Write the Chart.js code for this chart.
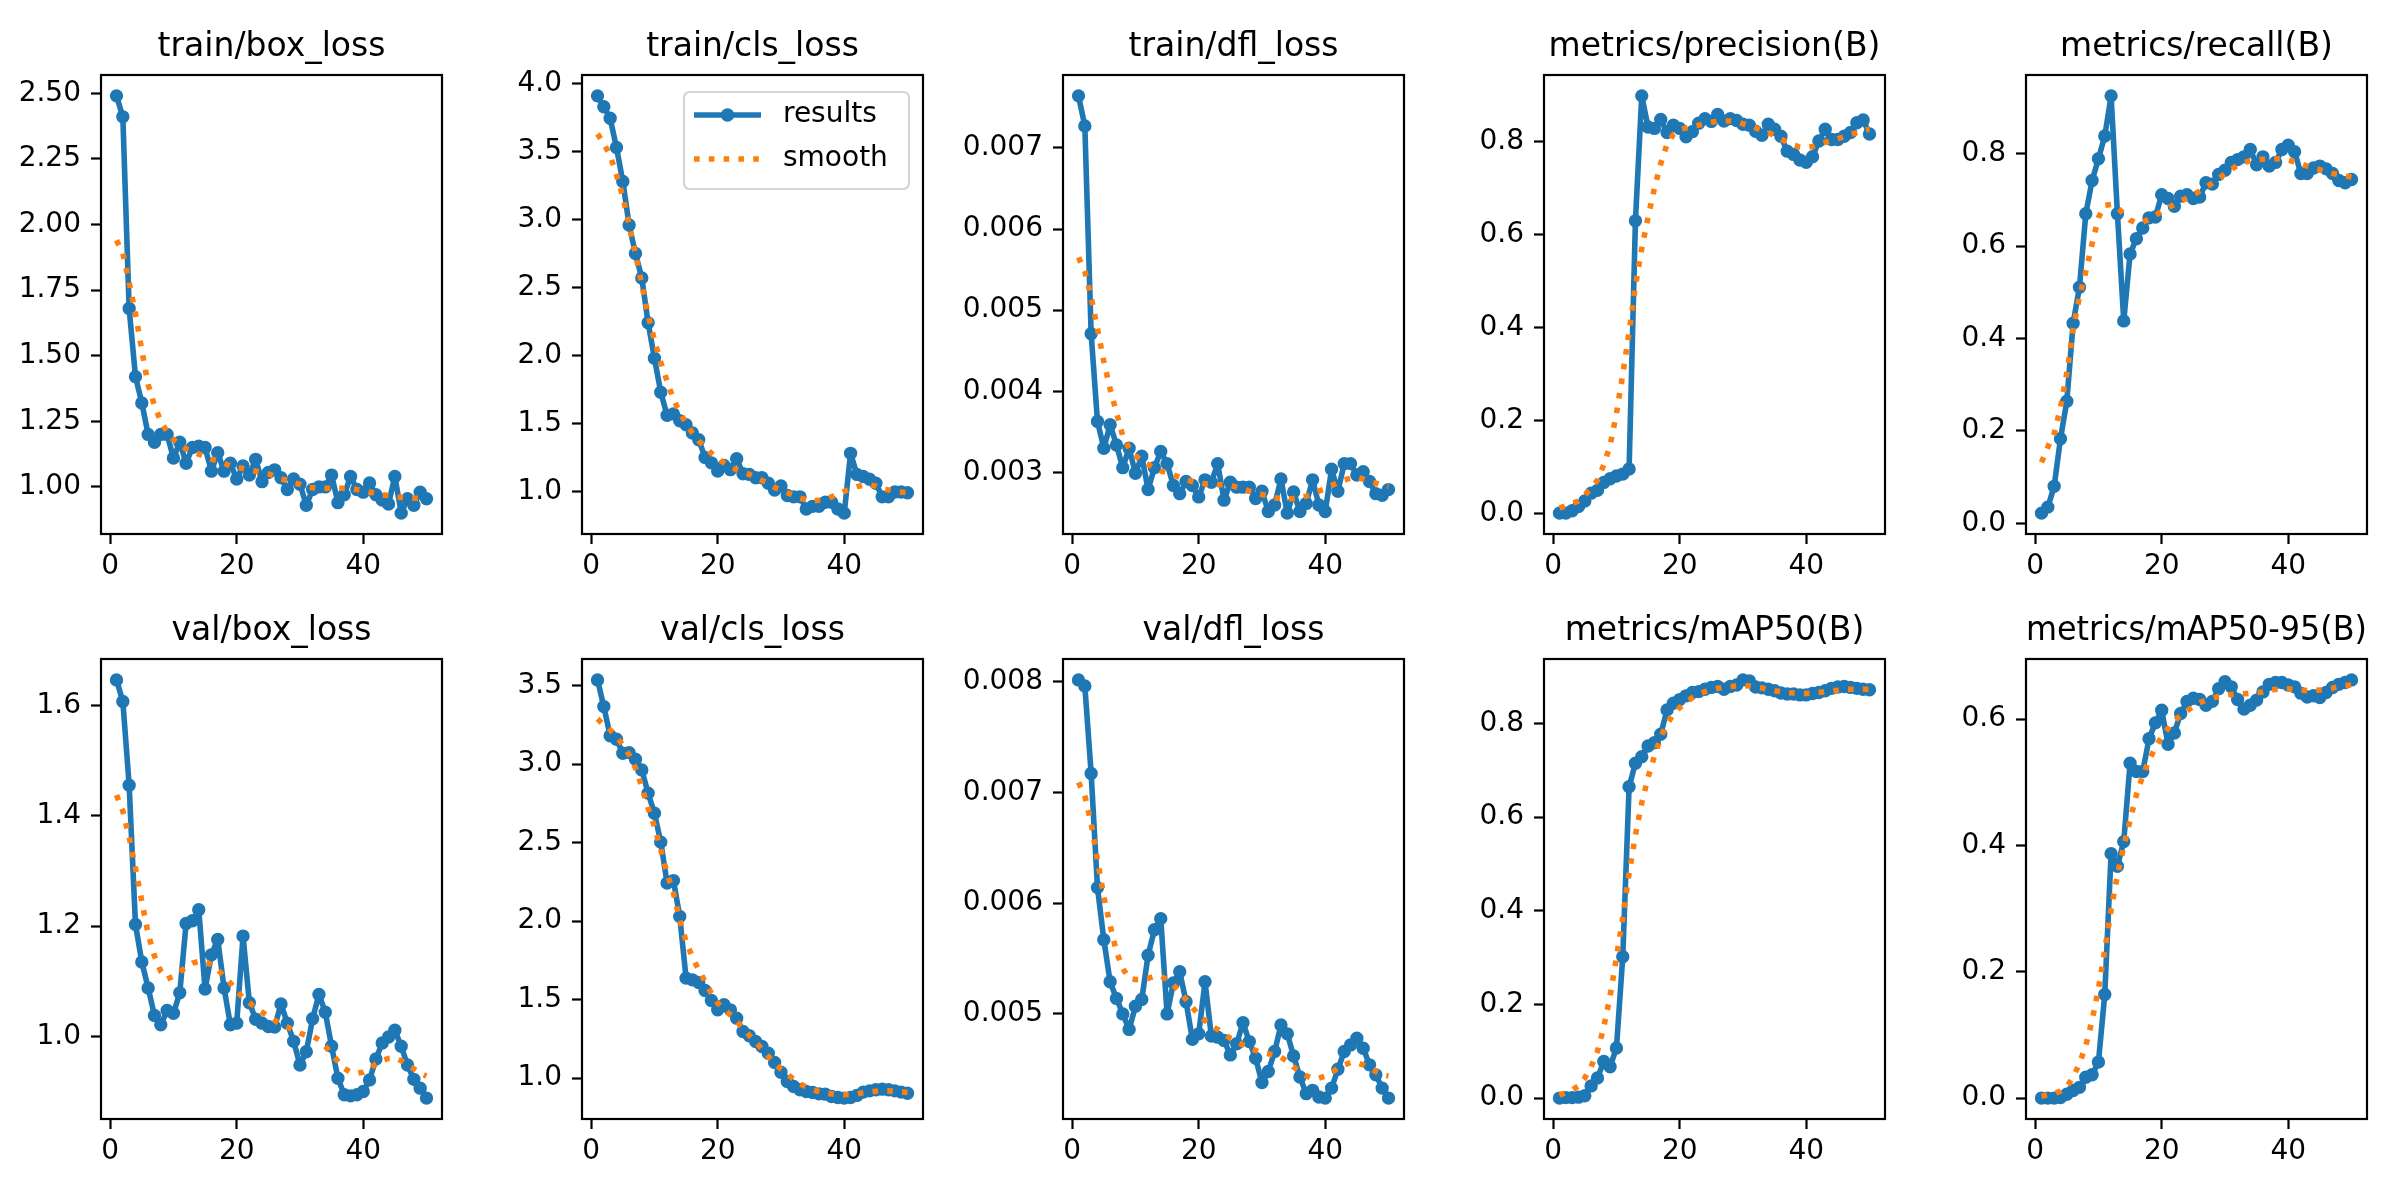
<!DOCTYPE html>
<html>
<head>
<meta charset="utf-8">
<title>results</title>
<script src="https://cdn.jsdelivr.net/npm/chart.js@4.4.1/dist/chart.umd.min.js"></script>
<style>
    html, body { margin: 0; padding: 0; background: #ffffff; }
    #fig { position: relative; width: 2400px; height: 1200px; overflow: hidden; background: #ffffff; }
    #fig canvas { position: absolute; }
</style>
</head>
<body>
<div id="fig"></div>
<script>
// Эпохи обучения
const epochs = [1, 2, 3, 4, 5, 6, 7, 8, 9, 10, 11, 12, 13, 14, 15, 16, 17, 18, 19, 20,
    21, 22, 23, 24, 25, 26, 27, 28, 29, 30, 31, 32, 33, 34, 35, 36, 37, 38, 39, 40,
    41, 42, 43, 44, 45, 46, 47, 48, 49, 50];
const xTicks = [0, 20, 40];

// train/box_loss
const trainBoxLoss = [2.49, 2.41, 1.68, 1.42, 1.32, 1.20, 1.17, 1.20, 1.20, 1.11, 1.17, 1.09, 1.15, 1.155, 1.15, 1.06, 1.13, 1.06, 1.09, 1.03,
    1.08, 1.045, 1.105, 1.02, 1.055, 1.065, 1.035, 0.99, 1.03, 1.01, 0.93, 0.99, 1.0, 1.0, 1.045, 0.94, 0.97, 1.04, 0.99, 0.98,
    1.015, 0.97, 0.95, 0.935, 1.04, 0.90, 0.955, 0.93, 0.98, 0.955];
const trainBoxSmooth = [1.94, 1.89, 1.78, 1.66, 1.52, 1.39, 1.31, 1.25, 1.21, 1.18, 1.16, 1.145, 1.135, 1.125, 1.115, 1.105, 1.10, 1.09, 1.08, 1.075,
    1.07, 1.065, 1.06, 1.055, 1.05, 1.04, 1.03, 1.025, 1.015, 1.01, 1.0, 0.997, 0.995, 0.995, 0.995, 0.995, 0.995, 0.995, 0.99, 0.987,
    0.98, 0.977, 0.97, 0.967, 0.963, 0.96, 0.957, 0.957, 0.957, 0.957];
const trainBoxTicks = [1.00, 1.25, 1.50, 1.75, 2.00, 2.25, 2.50];

// train/cls_loss
const trainClsLoss = [3.91, 3.83, 3.745, 3.53, 3.28, 2.96, 2.75, 2.57, 2.24, 1.98, 1.73, 1.56, 1.57, 1.52, 1.49, 1.43, 1.38, 1.25, 1.21, 1.15,
    1.19, 1.16, 1.24, 1.13, 1.125, 1.10, 1.10, 1.06, 1.01, 1.04, 0.97, 0.96, 0.96, 0.87, 0.89, 0.89, 0.92, 0.92, 0.87, 0.84,
    1.28, 1.125, 1.11, 1.09, 1.06, 0.96, 0.96, 0.995, 0.995, 0.99];
const trainClsSmooth = [3.63, 3.56, 3.47, 3.33, 3.17, 2.96, 2.75, 2.52, 2.30, 2.11, 1.95, 1.81, 1.68, 1.58, 1.50, 1.43, 1.37, 1.33, 1.28, 1.24,
    1.21, 1.18, 1.16, 1.14, 1.125, 1.105, 1.08, 1.06, 1.03, 1.01, 0.99, 0.97, 0.95, 0.94, 0.93, 0.935, 0.94, 0.96, 0.98, 1.0,
    1.02, 1.035, 1.045, 1.047, 1.04, 1.02, 1.01, 1.0, 0.995, 0.99];
const trainClsTicks = [1.0, 1.5, 2.0, 2.5, 3.0, 3.5, 4.0];

// train/dfl_loss
const trainDflLoss = [0.00764, 0.00727, 0.00471, 0.00363, 0.00330, 0.00359, 0.00334, 0.00306, 0.00330, 0.00299, 0.00320, 0.00279, 0.00306, 0.00326, 0.00311, 0.00284, 0.00274, 0.00289, 0.00284, 0.00270,
    0.00291, 0.00288, 0.00311, 0.00266, 0.00288, 0.00282, 0.00282, 0.00282, 0.00268, 0.00277, 0.00252, 0.00260, 0.00292, 0.00250, 0.00276, 0.00252, 0.00262, 0.00291, 0.00260, 0.00252,
    0.00304, 0.00277, 0.00311, 0.00311, 0.00297, 0.00301, 0.00289, 0.00274, 0.00272, 0.00279];
const trainDflSmooth = [0.00565, 0.00548, 0.00516, 0.00477, 0.00437, 0.00403, 0.00374, 0.00345, 0.00330, 0.00321, 0.00314, 0.00310, 0.00305, 0.00302, 0.00300, 0.00297, 0.00294, 0.00291, 0.00289, 0.00287,
    0.00286, 0.00286, 0.00285, 0.00285, 0.00284, 0.00282, 0.00280, 0.00277, 0.00275, 0.00273, 0.00271, 0.00269, 0.00268, 0.00267, 0.00268, 0.00269, 0.00271, 0.00274, 0.00277, 0.00280,
    0.00284, 0.00288, 0.00291, 0.00293, 0.00294, 0.00292, 0.00289, 0.00287, 0.00284, 0.00283];
const trainDflTicks = [0.003, 0.004, 0.005, 0.006, 0.007];

// metrics/precision(B)
const precision = [0.001, 0.001, 0.006, 0.015, 0.027, 0.044, 0.050, 0.067, 0.075, 0.081, 0.085, 0.096, 0.630, 0.899, 0.832, 0.829, 0.848, 0.820, 0.836, 0.829,
    0.811, 0.822, 0.840, 0.850, 0.844, 0.859, 0.845, 0.850, 0.846, 0.838, 0.836, 0.823, 0.814, 0.838, 0.827, 0.812, 0.780, 0.773, 0.761, 0.756,
    0.768, 0.802, 0.827, 0.805, 0.805, 0.812, 0.820, 0.841, 0.847, 0.817];
const precisionSmooth = [0.012, 0.017, 0.022, 0.027, 0.040, 0.054, 0.072, 0.105, 0.147, 0.215, 0.300, 0.390, 0.490, 0.570, 0.638, 0.700, 0.753, 0.795, 0.816, 0.826,
    0.830, 0.833, 0.836, 0.839, 0.842, 0.844, 0.845, 0.845, 0.843, 0.839, 0.835, 0.830, 0.825, 0.820, 0.813, 0.806, 0.799, 0.793, 0.789, 0.788,
    0.790, 0.794, 0.799, 0.802, 0.807, 0.811, 0.816, 0.820, 0.825, 0.827];
const precisionTicks = [0.0, 0.2, 0.4, 0.6, 0.8];

// metrics/recall(B)
const recall = [0.022, 0.035, 0.080, 0.183, 0.264, 0.433, 0.511, 0.670, 0.742, 0.789, 0.838, 0.925, 0.670, 0.438, 0.583, 0.616, 0.639, 0.661, 0.663, 0.711,
    0.703, 0.686, 0.708, 0.711, 0.703, 0.706, 0.737, 0.734, 0.755, 0.764, 0.781, 0.787, 0.793, 0.809, 0.776, 0.793, 0.773, 0.781, 0.809, 0.818,
    0.804, 0.757, 0.757, 0.769, 0.773, 0.767, 0.757, 0.742, 0.737, 0.744];
const recallSmooth = [0.132, 0.165, 0.194, 0.250, 0.325, 0.420, 0.490, 0.545, 0.605, 0.661, 0.688, 0.690, 0.683, 0.670, 0.656, 0.650, 0.652, 0.658, 0.666, 0.676,
    0.683, 0.690, 0.697, 0.704, 0.711, 0.719, 0.727, 0.736, 0.746, 0.756, 0.766, 0.775, 0.780, 0.785, 0.787, 0.788, 0.789, 0.789, 0.788, 0.786,
    0.782, 0.778, 0.773, 0.769, 0.765, 0.761, 0.757, 0.755, 0.752, 0.749];
const recallTicks = [0.0, 0.2, 0.4, 0.6, 0.8];

// val/box_loss
const valBoxLoss = [1.647, 1.608, 1.456, 1.203, 1.135, 1.088, 1.038, 1.021, 1.047, 1.042, 1.079, 1.205, 1.210, 1.230, 1.086, 1.148, 1.176, 1.088, 1.021, 1.024,
    1.182, 1.061, 1.031, 1.024, 1.018, 1.017, 1.059, 1.024, 0.991, 0.948, 0.972, 1.032, 1.076, 1.044, 0.982, 0.924, 0.894, 0.892, 0.894, 0.900,
    0.921, 0.959, 0.988, 0.999, 1.011, 0.982, 0.948, 0.922, 0.906, 0.888];
const valBoxSmooth = [1.438, 1.409, 1.362, 1.305, 1.245, 1.186, 1.146, 1.118, 1.104, 1.109, 1.117, 1.126, 1.133, 1.136, 1.136, 1.130, 1.121, 1.109, 1.097, 1.082,
    1.070, 1.061, 1.052, 1.044, 1.036, 1.029, 1.022, 1.017, 1.011, 1.006, 1.002, 1.0, 0.994, 0.982, 0.968, 0.955, 0.942, 0.935, 0.933, 0.935,
    0.941, 0.950, 0.956, 0.960, 0.961, 0.956, 0.948, 0.941, 0.933, 0.928];
const valBoxTicks = [1.0, 1.2, 1.4, 1.6];

// val/cls_loss
const valClsLoss = [3.536, 3.366, 3.180, 3.158, 3.069, 3.073, 3.031, 2.963, 2.815, 2.687, 2.503, 2.242, 2.258, 2.029, 1.637, 1.626, 1.609, 1.558, 1.494, 1.435,
    1.467, 1.435, 1.382, 1.297, 1.270, 1.233, 1.202, 1.159, 1.100, 1.038, 0.979, 0.947, 0.926, 0.915, 0.909, 0.900, 0.898, 0.883, 0.877, 0.873,
    0.877, 0.890, 0.911, 0.919, 0.926, 0.930, 0.926, 0.919, 0.911, 0.904];
const valClsSmooth = [3.288, 3.250, 3.218, 3.175, 3.122, 3.059, 2.974, 2.857, 2.719, 2.602, 2.454, 2.305, 2.178, 2.008, 1.870, 1.770, 1.690, 1.615, 1.540, 1.478,
    1.439, 1.403, 1.361, 1.318, 1.272, 1.229, 1.185, 1.138, 1.096, 1.057, 1.025, 0.994, 0.964, 0.943, 0.926, 0.915, 0.904, 0.900, 0.896, 0.894,
    0.896, 0.900, 0.907, 0.913, 0.917, 0.919, 0.919, 0.917, 0.913, 0.909];
const valClsTicks = [1.0, 1.5, 2.0, 2.5, 3.0, 3.5];

// val/dfl_loss
const valDflLoss = [0.008015, 0.00796, 0.00717, 0.00614, 0.00567, 0.00529, 0.00514, 0.00500, 0.00486, 0.00507, 0.00513, 0.00553, 0.00576, 0.00586, 0.00500, 0.00528, 0.00538, 0.00511, 0.00477, 0.00482,
    0.00529, 0.00480, 0.00479, 0.00476, 0.00463, 0.00473, 0.00492, 0.00475, 0.00460, 0.00438, 0.00448, 0.00466, 0.00490, 0.00482, 0.00462, 0.00443, 0.00428, 0.00431, 0.00425, 0.00424,
    0.00433, 0.00450, 0.00466, 0.00472, 0.00478, 0.00469, 0.00454, 0.00445, 0.00433, 0.00424];
const valDflSmooth = [0.00709, 0.00697, 0.00672, 0.00639, 0.00606, 0.00580, 0.00556, 0.00541, 0.00532, 0.00531, 0.00531, 0.00532, 0.00534, 0.00534, 0.00531, 0.00526, 0.00520, 0.00513, 0.00506, 0.00499,
    0.00494, 0.00489, 0.00486, 0.00482, 0.00478, 0.00475, 0.00472, 0.00469, 0.00467, 0.00465, 0.00464, 0.00463, 0.00461, 0.00457, 0.00452, 0.00448, 0.00444, 0.00442, 0.00442, 0.00444,
    0.00447, 0.00451, 0.00454, 0.00456, 0.00456, 0.00454, 0.00451, 0.00448, 0.00445, 0.00444];
const valDflTicks = [0.005, 0.006, 0.007, 0.008];

// metrics/mAP50(B)
const mAP50 = [0.0, 0.001, 0.001, 0.002, 0.005, 0.026, 0.043, 0.078, 0.067, 0.107, 0.302, 0.665, 0.715, 0.729, 0.752, 0.759, 0.777, 0.829, 0.843, 0.851,
    0.859, 0.866, 0.868, 0.873, 0.877, 0.879, 0.873, 0.879, 0.882, 0.893, 0.891, 0.878, 0.876, 0.873, 0.870, 0.865, 0.863, 0.863, 0.861, 0.861,
    0.864, 0.866, 0.870, 0.875, 0.878, 0.879, 0.877, 0.875, 0.873, 0.872];
const mAP50Smooth = [0.006, 0.012, 0.017, 0.026, 0.043, 0.067, 0.100, 0.152, 0.218, 0.300, 0.385, 0.480, 0.562, 0.630, 0.685, 0.730, 0.770, 0.799, 0.820, 0.834,
    0.846, 0.855, 0.863, 0.868, 0.872, 0.875, 0.877, 0.879, 0.880, 0.881, 0.880, 0.878, 0.876, 0.873, 0.870, 0.868, 0.866, 0.865, 0.864, 0.864,
    0.865, 0.866, 0.868, 0.870, 0.871, 0.873, 0.873, 0.873, 0.873, 0.873];
const mAP50Ticks = [0.0, 0.2, 0.4, 0.6, 0.8];

// metrics/mAP50-95(B)
const mAP5095 = [0.0, 0.0, 0.0, 0.001, 0.006, 0.012, 0.017, 0.033, 0.037, 0.057, 0.164, 0.387, 0.367, 0.406, 0.530, 0.517, 0.517, 0.569, 0.594, 0.614,
    0.560, 0.578, 0.609, 0.628, 0.633, 0.631, 0.622, 0.628, 0.648, 0.659, 0.651, 0.631, 0.616, 0.622, 0.630, 0.643, 0.655, 0.658, 0.658, 0.654,
    0.651, 0.641, 0.635, 0.637, 0.634, 0.642, 0.650, 0.655, 0.658, 0.662];
const mAP5095Smooth = [0.003, 0.005, 0.007, 0.011, 0.018, 0.033, 0.055, 0.083, 0.123, 0.173, 0.234, 0.298, 0.353, 0.398, 0.440, 0.480, 0.510, 0.535, 0.555, 0.572,
    0.585, 0.597, 0.606, 0.613, 0.620, 0.626, 0.630, 0.633, 0.636, 0.638, 0.639, 0.640, 0.640, 0.641, 0.642, 0.643, 0.646, 0.647, 0.648, 0.648,
    0.647, 0.646, 0.645, 0.645, 0.646, 0.647, 0.649, 0.651, 0.653, 0.654];
const mAP5095Ticks = [0.0, 0.2, 0.4, 0.6];

// Порядок панелей: верхний ряд, затем нижний
const panels = [
    { title: 'train/box_loss', values: trainBoxLoss, smooth: trainBoxSmooth, ticks: trainBoxTicks, digits: 2 },
    { title: 'train/cls_loss', values: trainClsLoss, smooth: trainClsSmooth, ticks: trainClsTicks, digits: 1, legend: true },
    { title: 'train/dfl_loss', values: trainDflLoss, smooth: trainDflSmooth, ticks: trainDflTicks, digits: 3 },
    { title: 'metrics/precision(B)', values: precision, smooth: precisionSmooth, ticks: precisionTicks, digits: 1 },
    { title: 'metrics/recall(B)', values: recall, smooth: recallSmooth, ticks: recallTicks, digits: 1 },
    { title: 'val/box_loss', values: valBoxLoss, smooth: valBoxSmooth, ticks: valBoxTicks, digits: 1 },
    { title: 'val/cls_loss', values: valClsLoss, smooth: valClsSmooth, ticks: valClsTicks, digits: 1 },
    { title: 'val/dfl_loss', values: valDflLoss, smooth: valDflSmooth, ticks: valDflTicks, digits: 3 },
    { title: 'metrics/mAP50(B)', values: mAP50, smooth: mAP50Smooth, ticks: mAP50Ticks, digits: 1 },
    { title: 'metrics/mAP50-95(B)', values: mAP5095, smooth: mAP5095Smooth, ticks: mAP5095Ticks, digits: 1 }
];

const FONT = 'DejaVu Sans';
const BLUE = '#1f77b4';
const ORANGE = '#ff7f0e';

// Геометрия сетки (как у matplotlib tight_layout)
const colLeft = [101, 582, 1063, 1544, 2026];
const rowTop = [75, 659];
const rowHeight = [459, 460];
const PLOT_W = 341;
const AX_L = 110, AX_R = 110, TITLE_H = 75, AX_B = 50;

Chart.defaults.font.family = FONT;

// Рамка осей поверх линий
const framePlugin = {
    id: 'frame',
    afterDatasetsDraw(chart) {
        const { ctx, chartArea: a } = chart;
        ctx.save();
        ctx.strokeStyle = '#000000';
        ctx.lineWidth = 2.2;
        ctx.strokeRect(a.left, a.top, a.right - a.left, a.bottom - a.top);
        ctx.restore();
    }
};

// Легенда внутри области графика, в стиле matplotlib
const boxLegendPlugin = {
    id: 'boxLegend',
    afterDraw(chart, args, opts) {
        if (!opts.show) return;
        const { ctx, chartArea: a } = chart;
        const w = 225, h = 97, r = 5.6;
        const x0 = a.right - 14 - w;
        const y0 = a.top + 17;

        ctx.save();
        ctx.beginPath();
        ctx.moveTo(x0 + r, y0);
        ctx.arcTo(x0 + w, y0, x0 + w, y0 + h, r);
        ctx.arcTo(x0 + w, y0 + h, x0, y0 + h, r);
        ctx.arcTo(x0, y0 + h, x0, y0, r);
        ctx.arcTo(x0, y0, x0 + w, y0, r);
        ctx.closePath();
        ctx.fillStyle = 'rgba(255,255,255,0.8)';
        ctx.fill();
        ctx.strokeStyle = 'rgba(204,204,204,0.8)';
        ctx.lineWidth = 2.2;
        ctx.stroke();

        chart.data.datasets.forEach((ds, k) => {
            const cy = y0 + 23 + k * 44;
            ctx.beginPath();
            ctx.setLineDash(ds.borderDash || []);
            ctx.lineCap = 'butt';
            ctx.strokeStyle = ds.borderColor;
            ctx.lineWidth = ds.borderWidth;
            ctx.moveTo(x0 + 10, cy);
            ctx.lineTo(x0 + 77, cy);
            ctx.stroke();
            ctx.setLineDash([]);
            if (ds.pointRadius) {
                ctx.beginPath();
                ctx.arc(x0 + 43.5, cy, ds.pointRadius + ds.pointBorderWidth / 2, 0, Math.PI * 2);
                ctx.fillStyle = ds.borderColor;
                ctx.fill();
            }
            ctx.fillStyle = '#000000';
            ctx.font = '28px "' + FONT + '"';
            ctx.textBaseline = 'middle';
            ctx.textAlign = 'left';
            ctx.fillText(ds.label, x0 + 99, cy);
        });
        ctx.restore();
    }
};

function createPanel(p, i) {
    const col = i % 5;
    const row = Math.floor(i / 5);
    const w = AX_L + PLOT_W + AX_R;
    const h = TITLE_H + rowHeight[row] + AX_B;

    const canvas = document.createElement('canvas');
    canvas.width = w;
    canvas.height = h;
    canvas.style.width = w + 'px';
    canvas.style.height = h + 'px';
    canvas.style.left = (colLeft[col] - AX_L) + 'px';
    canvas.style.top = (rowTop[row] - TITLE_H) + 'px';
    document.getElementById('fig').appendChild(canvas);

    // Поля 5% как у matplotlib
    const all = p.values.concat(p.smooth);
    const lo = Math.min(...all), hi = Math.max(...all);
    const yPad = (hi - lo) * 0.05;
    const xPad = (epochs[epochs.length - 1] - epochs[0]) * 0.05;

    const tickFont = { family: FONT, size: 28, lineHeight: 1 };
    const grid = { drawOnChartArea: false, drawTicks: true, tickLength: 10, tickWidth: 2.2, tickColor: '#000000' };

    return new Chart(canvas, {
        type: 'line',
        data: {
            datasets: [
                {
                    label: 'results',
                    data: epochs.map((e, k) => ({ x: e, y: p.values[k] })),
                    borderColor: BLUE,
                    backgroundColor: BLUE,
                    borderWidth: 5.6,
                    borderJoinStyle: 'round',
                    borderCapStyle: 'round',
                    pointRadius: 5.5,
                    pointBorderWidth: 2.4,
                    pointBackgroundColor: BLUE,
                    pointBorderColor: BLUE,
                    tension: 0,
                    order: 2
                },
                {
                    label: 'smooth',
                    data: epochs.map((e, k) => ({ x: e, y: p.smooth[k] })),
                    borderColor: ORANGE,
                    backgroundColor: ORANGE,
                    borderWidth: 5.6,
                    borderDash: [5.6, 9.2],
                    borderCapStyle: 'butt',
                    borderJoinStyle: 'round',
                    pointRadius: 0,
                    tension: 0,
                    order: 1
                }
            ]
        },
        options: {
            responsive: false,
            animation: false,
            devicePixelRatio: 1,
            events: [],
            layout: { padding: { left: 0, top: 0, right: AX_R, bottom: 0 } },
            plugins: {
                legend: { display: false },
                tooltip: { enabled: false },
                title: {
                    display: true,
                    text: p.title,
                    fullSize: false,
                    color: '#000000',
                    font: { family: FONT, size: 33, weight: 'normal', lineHeight: 1 },
                    padding: { top: 31, bottom: 11 }
                },
                boxLegend: { show: !!p.legend }
            },
            scales: {
                x: {
                    type: 'linear',
                    min: epochs[0] - xPad,
                    max: epochs[epochs.length - 1] + xPad,
                    afterBuildTicks: (s) => { s.ticks = xTicks.map(v => ({ value: v })); },
                    afterFit: (s) => { s.height = AX_B; },
                    grid: grid,
                    border: { display: false },
                    ticks: { color: '#000000', font: tickFont, padding: 9, maxRotation: 0, autoSkip: false, callback: (v) => String(v) }
                },
                y: {
                    type: 'linear',
                    min: lo - yPad,
                    max: hi + yPad,
                    afterBuildTicks: (s) => { s.ticks = p.ticks.map(v => ({ value: v })); },
                    afterFit: (s) => { s.width = AX_L; },
                    grid: grid,
                    border: { display: false },
                    ticks: { color: '#000000', font: tickFont, padding: 10, autoSkip: false, callback: (v) => Number(v).toFixed(p.digits) }
                }
            }
        },
        plugins: [framePlugin, boxLegendPlugin]
    });
}

panels.forEach((p, i) => createPanel(p, i));
</script>
</body>
</html>
